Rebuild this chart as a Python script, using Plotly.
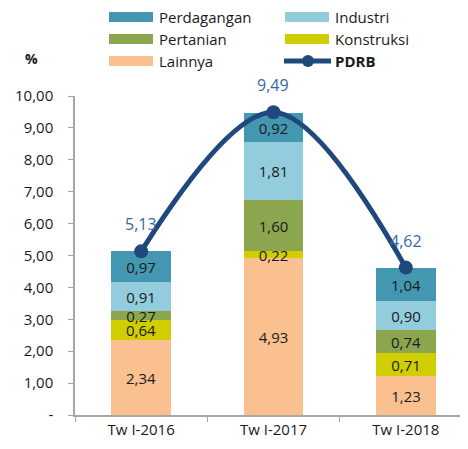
import plotly.graph_objects as go

categories = ["Tw I-2016", "Tw I-2017", "Tw I-2018"]
lainnya = [2.34, 4.93, 1.23]
konstruksi = [0.64, 0.22, 0.71]
pertanian = [0.27, 1.60, 0.74]
industri = [0.91, 1.81, 0.90]
perdagangan = [0.97, 0.92, 1.04]
pdrb = [5.13, 9.49, 4.62]
y_tickvals = [0, 1, 2, 3, 4, 5, 6, 7, 8, 9, 10]
y_ticktext = ["-", "1,00", "2,00", "3,00", "4,00", "5,00", "6,00", "7,00", "8,00", "9,00", "10,00"]

colors = {
    "Lainnya": "#FAC090",
    "Konstruksi": "#D0CD00",
    "Pertanian": "#8BA64F",
    "Industri": "#93CDDD",
    "Perdagangan": "#4397B0",
}
line_color = "#1F497D"
FONT = "Open Sans"

OFF = 8  # page body margin
W, H = 468 - OFF, 449 - OFF
L, R, T, B = 75 - OFF, 0, 96 - OFF, 34
PW = W - L - R
PH = H - T - B


def px(x):
    return (x - OFF - L) / PW


def py(y):
    return (H - B - (y - OFF)) / PH


fig = go.Figure()
series = [
    ("Lainnya", lainnya),
    ("Konstruksi", konstruksi),
    ("Pertanian", pertanian),
    ("Industri", industri),
    ("Perdagangan", perdagangan),
]
for name, vals in series:
    fig.add_trace(go.Bar(
        x=categories, y=vals, name=name,
        marker=dict(color=colors[name], line=dict(width=0)),
        width=0.45,
        text=[f"{v:.2f}".replace(".", ",") for v in vals],
        textposition="inside", insidetextanchor="middle",
        textfont=dict(family=FONT, size=15, color="#1a1a1a"),
        showlegend=False,
    ))

fig.add_trace(go.Scatter(
    x=categories, y=pdrb, mode="lines+markers", name="PDRB",
    line=dict(color=line_color, width=5, shape="spline", smoothing=1.0),
    marker=dict(color=line_color, size=14),
    showlegend=False, cliponaxis=False,
))

for c, v in zip(categories, pdrb):
    fig.add_annotation(
        x=c, y=v, text=f"{v:.2f}".replace(".", ","), showarrow=False,
        yshift=27, font=dict(family=FONT, size=16, color="#3A66A8"),
    )

# manual legend
legend_items = [
    ("Perdagangan", 109, 17), ("Industri", 285, 17),
    ("Pertanian", 109, 39), ("Konstruksi", 285, 39),
    ("Lainnya", 109, 61),
]
shapes = []
for name, x0, yc in legend_items:
    shapes.append(dict(type="rect", xref="paper", yref="paper",
                       x0=px(x0), x1=px(x0 + 44), y0=py(yc - 5), y1=py(yc + 5),
                       fillcolor=colors[name], line=dict(width=0)))
    fig.add_annotation(xref="paper", yref="paper", x=px(x0 + 48), y=py(yc),
                       text=name, showarrow=False, xanchor="left", yanchor="middle",
                       font=dict(family=FONT, size=15, color="#1a1a1a"))
shapes.append(dict(type="line", xref="paper", yref="paper",
                   x0=px(284), x1=px(331), y0=py(61), y1=py(61),
                   line=dict(color=line_color, width=5)))
shapes.append(dict(type="circle", xref="paper", yref="paper",
                   x0=px(302), x1=px(314), y0=py(67), y1=py(55),
                   fillcolor=line_color, line=dict(width=0)))
fig.add_annotation(xref="paper", yref="paper", x=px(333), y=py(61),
                   text="<b>PDRB</b>", showarrow=False, xanchor="left", yanchor="middle",
                   font=dict(family=FONT, size=15, color="#1a1a1a"))
fig.add_annotation(xref="paper", yref="paper", x=px(31), y=py(58),
                   text="<b>%</b>", showarrow=False, xanchor="center", yanchor="middle",
                   font=dict(family=FONT, size=14, color="#1a1a1a"))

fig.update_layout(
    width=W, height=H,
    margin=dict(l=L, r=R, t=T, b=B, pad=0),
    barmode="stack", bargap=0,
    plot_bgcolor="white", paper_bgcolor="white",
    shapes=shapes,
    uniformtext=dict(minsize=15, mode="show"),
    showlegend=False,
    font=dict(family=FONT, size=15, color="#1a1a1a"),
)
fig.update_xaxes(
    range=[-0.5, 2.47], showline=True, linecolor="#A6A6A6", linewidth=1.5,
    ticks="outside", tickson="boundaries", ticklen=5, tickcolor="#A6A6A6",
    tickfont=dict(family=FONT, size=15, color="#1a1a1a"), showgrid=False,
)
fig.update_yaxes(
    range=[0, 10], showline=True, linecolor="#A6A6A6", linewidth=1.5,
    ticks="outside", ticklen=5, tickcolor="#A6A6A6",
    tickvals=y_tickvals, ticktext=y_ticktext, ticklabelstandoff=12,
    tickfont=dict(family=FONT, size=15, color="#1a1a1a"), showgrid=False, zeroline=False,
)

fig.write_html("out.html")
